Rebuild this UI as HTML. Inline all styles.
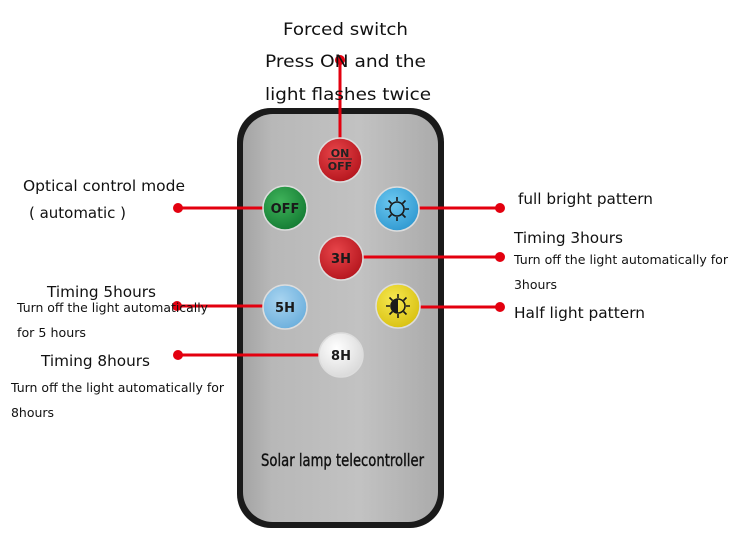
<!DOCTYPE html>
<html><head><meta charset="utf-8"><style>
html,body{margin:0;padding:0;background:#fff;}
svg{display:block;}
text{font-family:"DejaVu Sans","Liberation Sans",sans-serif;fill:#111;}
</style></head><body>
<svg width="748" height="543" viewBox="0 0 748 543" xmlns="http://www.w3.org/2000/svg">
<defs>
<linearGradient id="body" x1="0" y1="0" x2="1" y2="0">
<stop offset="0" stop-color="#a4a4a4"/><stop offset="0.15" stop-color="#b8b8b8"/><stop offset="0.6" stop-color="#c2c2c2"/><stop offset="1" stop-color="#ababab"/>
</linearGradient>
<radialGradient id="red" cx="0.4" cy="0.35" r="0.7"><stop offset="0" stop-color="#e8454a"/><stop offset="1" stop-color="#b3141c"/></radialGradient>
<radialGradient id="green" cx="0.4" cy="0.35" r="0.7"><stop offset="0" stop-color="#3fb35a"/><stop offset="1" stop-color="#137a32"/></radialGradient>
<radialGradient id="blue" cx="0.4" cy="0.35" r="0.7"><stop offset="0" stop-color="#6cc8f0"/><stop offset="1" stop-color="#2f98d0"/></radialGradient>
<radialGradient id="lblue" cx="0.4" cy="0.35" r="0.7"><stop offset="0" stop-color="#a8d4f0"/><stop offset="1" stop-color="#6aaedc"/></radialGradient>
<radialGradient id="yellow" cx="0.4" cy="0.35" r="0.7"><stop offset="0" stop-color="#f6e850"/><stop offset="1" stop-color="#d8c010"/></radialGradient>
<radialGradient id="white" cx="0.4" cy="0.35" r="0.7"><stop offset="0" stop-color="#ffffff"/><stop offset="1" stop-color="#d8d8d8"/></radialGradient>
</defs>
<rect x="237" y="108" width="207" height="420" rx="34" fill="#1a1a1a"/>
<rect x="243" y="114" width="195" height="408" rx="30" fill="url(#body)"/>
<g stroke="#e3000f" stroke-width="3" fill="none">
<line x1="340" y1="58" x2="340" y2="142"/>
<line x1="178" y1="208" x2="265" y2="208"/>
<line x1="418" y1="208" x2="500" y2="208"/>
<line x1="362" y1="257" x2="500" y2="257"/>
<line x1="177" y1="306" x2="265" y2="306"/>
<line x1="418" y1="307" x2="500" y2="307"/>
<line x1="178" y1="355" x2="321" y2="355"/>
</g>
<g fill="#e3000f">
<circle cx="340" cy="60" r="5"/><circle cx="178" cy="208" r="5"/><circle cx="500" cy="208" r="5"/>
<circle cx="500" cy="257" r="5"/><circle cx="177" cy="306" r="5"/><circle cx="500" cy="307" r="5"/><circle cx="178" cy="355" r="5"/>
</g>
<g stroke="#ddd" stroke-width="1.5">
<circle cx="340" cy="160" r="22" fill="url(#red)"/>
<circle cx="285" cy="208" r="22" fill="url(#green)"/>
<circle cx="397" cy="209" r="22" fill="url(#blue)"/>
<circle cx="341" cy="258" r="22" fill="url(#red)"/>
<circle cx="285" cy="307" r="22" fill="url(#lblue)"/>
<circle cx="398" cy="306" r="22" fill="url(#yellow)"/>
<circle cx="341" cy="355" r="22" fill="url(#white)"/>
</g>
<g font-family="Liberation Sans" font-weight="bold" text-anchor="middle">
<text x="340" y="157" font-size="11" style="fill:#222">ON</text>
<line x1="328" y1="159" x2="352" y2="159" stroke="#222" stroke-width="1"/>
<text x="340" y="170" font-size="11" style="fill:#222">OFF</text>
<text x="285" y="213" font-size="13" style="fill:#1a1a1a">OFF</text>
<text x="341" y="263" font-size="13" style="fill:#1a1a1a">3H</text>
<text x="285" y="312" font-size="13" style="fill:#1a1a1a">5H</text>
<text x="341" y="360" font-size="13" style="fill:#1a1a1a">8H</text>
</g>
<g stroke="#1a1a1a" stroke-width="1.6" fill="none">
<circle cx="397" cy="209" r="7"/>
<path d="M397 197v4M397 217v4M385 209h4M405 209h4M388.5 200.5l3 3M402.5 214.5l3 3M405.5 200.5l-3 3M391.5 214.5l-3 3"/>
<circle cx="398" cy="306" r="7"/>
<path d="M398 294v4M398 314v4M386 306h4M406 306h4M389.5 297.5l3 3M403.5 311.5l3 3M406.5 297.5l-3 3M392.5 311.5l-3 3"/>
</g>
<path d="M398 299a7 7 0 0 0 0 14z" fill="#1a1a1a"/>
<text x="261" y="466" font-family="Liberation Sans" font-size="17" textLength="163" lengthAdjust="spacingAndGlyphs" style="fill:#111;stroke:#111;stroke-width:0.4">Solar lamp telecontroller</text>
<g font-size="17">
<text x="283" y="35" textLength="125" lengthAdjust="spacingAndGlyphs">Forced switch</text>
<text x="265" y="67" textLength="161" lengthAdjust="spacingAndGlyphs">Press ON and the</text>
<text x="265" y="100" textLength="166" lengthAdjust="spacingAndGlyphs">light flashes twice</text>
</g>
<g font-size="15">
<text x="23" y="191" textLength="162" lengthAdjust="spacingAndGlyphs">Optical control mode</text>
<text x="29" y="218" textLength="97" lengthAdjust="spacingAndGlyphs">( automatic )</text>
<text x="518" y="204" textLength="135" lengthAdjust="spacingAndGlyphs">full bright pattern</text>
<text x="514" y="243" textLength="109" lengthAdjust="spacingAndGlyphs">Timing 3hours</text>
<text x="514" y="318" textLength="131" lengthAdjust="spacingAndGlyphs">Half light pattern</text>
<text x="47" y="297" textLength="109" lengthAdjust="spacingAndGlyphs">Timing 5hours</text>
<text x="41" y="366" textLength="109" lengthAdjust="spacingAndGlyphs">Timing 8hours</text>
</g>
<g font-size="12">
<text x="514" y="264" textLength="214" lengthAdjust="spacingAndGlyphs">Turn off the light automatically for</text>
<text x="514" y="289" textLength="43" lengthAdjust="spacingAndGlyphs">3hours</text>
<text x="17" y="312" textLength="191" lengthAdjust="spacingAndGlyphs">Turn off the light automatically</text>
<text x="17" y="337" textLength="69" lengthAdjust="spacingAndGlyphs">for 5 hours</text>
<text x="11" y="392" textLength="213" lengthAdjust="spacingAndGlyphs">Turn off the light automatically for</text>
<text x="11" y="417" textLength="43" lengthAdjust="spacingAndGlyphs">8hours</text>
</g>
</svg>
</body></html>
